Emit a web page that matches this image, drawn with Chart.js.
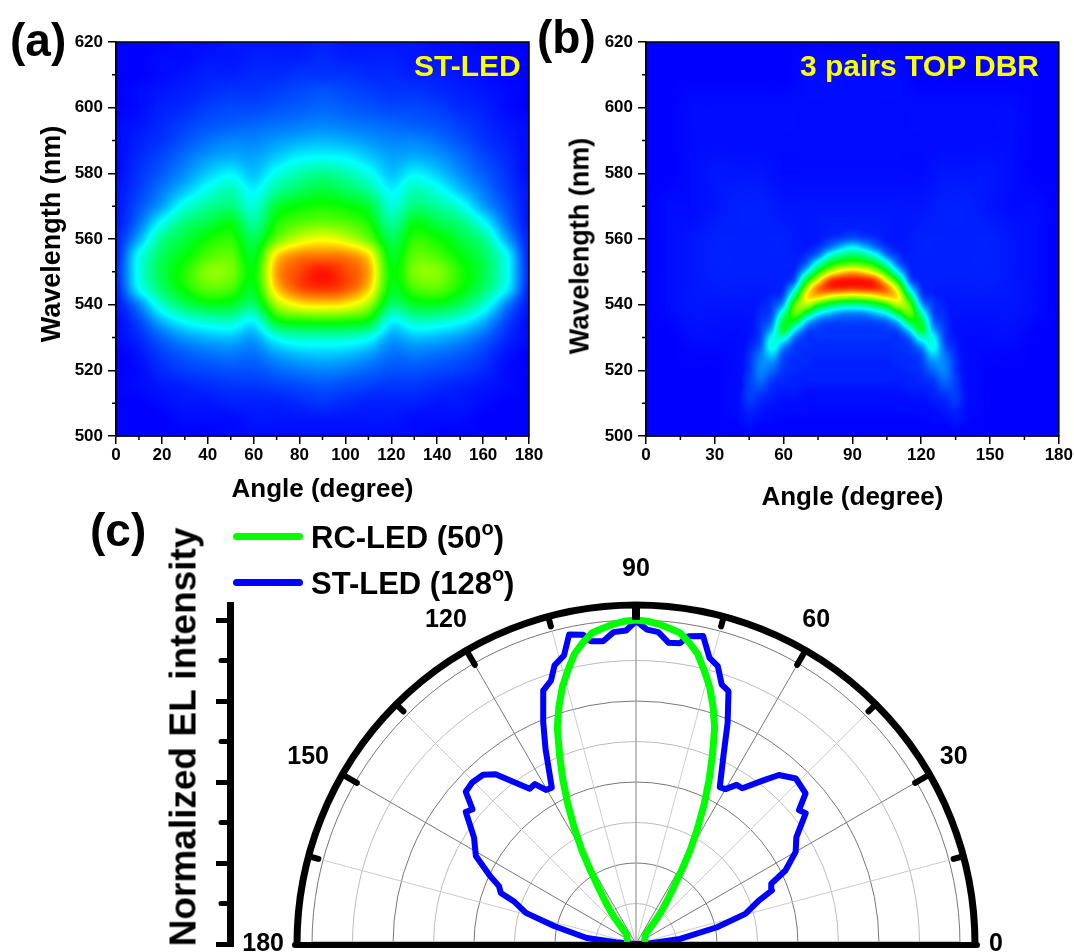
<!DOCTYPE html>
<html>
<head>
<meta charset="utf-8">
<title>EL spectra</title>
<script src="https://cdn.jsdelivr.net/npm/chart.js@4/dist/chart.umd.js"></script>
<style>
  html, body { margin: 0; padding: 0; width: 1074px; height: 952px; overflow: hidden; background: #fff; }
  body { position: relative; font-family: "Liberation Sans", Arial, sans-serif; font-weight: bold; color: #000; }
  canvas { position: absolute; }
  .txt { position: absolute; white-space: nowrap; line-height: 1; }
  .panel { font-size: 46px; }
  .tag { font-size: 30px; color: #ff0; }
  .leg { font-size: 31px; }
  .leg sup { font-size: 20px; line-height: 0; vertical-align: 13px; }
  .swatch { position: absolute; width: 70px; height: 7px; border-radius: 4px; }
  .ytitle { font-size: 27px; transform: translate(-50%, -50%) rotate(-90deg); }
  #ylab { font-size: 37px; left: 183px; top: 737px; transform: translate(-50%, -50%) rotate(-90deg); }
</style>
</head>
<body>
<canvas id="chartA" width="560" height="510" style="left:0;top:0"></canvas>
<canvas id="chartB" width="540" height="510" style="left:534px;top:0"></canvas>
<canvas id="chartC" width="1074" height="480" style="left:0;top:510px"></canvas>

<div class="txt panel" style="left:10px;top:17px">(a)</div>
<div class="txt panel" style="left:537px;top:14px">(b)</div>
<div class="txt panel" style="left:90px;top:507px">(c)</div>
<div class="txt tag" style="left:414px;top:51px">ST-LED</div>
<div class="txt tag" style="left:800px;top:51px">3 pairs TOP DBR</div>
<div class="txt ytitle" style="left:51px;top:234px">Wavelength (nm)</div>
<div class="txt ytitle" style="left:580px;top:246px">Wavelength (nm)</div>
<div class="txt" id="ylab">Normalized EL intensity</div>
<div class="swatch" style="left:233px;top:533px;background:#00ff00"></div>
<div class="swatch" style="left:233px;top:579px;background:#0000ff"></div>
<div class="txt leg" style="left:311px;top:522px">RC-LED (50<sup>o</sup>)</div>
<div class="txt leg" style="left:311px;top:568px">ST-LED (128<sup>o</sup>)</div>

<script>
// panel (a), values in percent of full colour scale, rows from 620 nm down
const aAngles = [0,10,20,30,40,50,60,70,80,90,100,110,120,130,140,150,160,170,180];
const aWavelengths = [620,615,610,605,600,595,590,585,580,575,570,565,560,555,550,545,540,535,530,525,520,515,510,505,500];
const aValues = [
  [0,0,0,1,1,2,2,2,2,3,2,2,2,2,1,1,0,0,0],
  [0,0,1,1,2,2,3,3,3,4,3,3,3,2,2,1,1,0,0],
  [0,0,1,2,3,3,4,4,5,5,5,4,4,3,3,2,1,0,0],
  [0,1,2,3,4,5,5,6,7,8,7,6,5,5,4,3,2,1,0],
  [0,1,3,4,6,7,7,8,9,10,9,8,7,7,6,4,3,1,0],
  [1,2,4,6,8,9,10,11,12,13,12,11,10,9,8,6,4,2,1],
  [1,3,5,8,11,13,13,15,17,18,17,15,13,13,11,8,5,3,1],
  [1,4,7,11,15,17,16,20,24,25,24,20,16,17,15,11,7,4,1],
  [1,5,9,14,20,24,19,27,33,36,33,27,19,24,20,14,9,5,1],
  [2,6,12,19,27,32,24,35,41,44,41,35,24,32,27,19,12,6,2],
  [2,8,16,28,35,38,29,45,50,52,50,45,29,38,35,28,16,8,2],
  [2,11,26,38,43,48,35,52,58,60,58,52,35,48,43,38,26,11,2],
  [3,17,36,44,51,54,42,60,70,74,70,60,42,54,51,44,36,17,3],
  [3,26,41,49,57,59,47,78,87,88,87,78,47,59,57,49,41,26,3],
  [4,27,43,53,63,62,50,84,93,98,93,84,50,62,63,53,43,27,4],
  [3,25,40,51,59,57,48,80,92,95,92,80,48,57,59,51,40,25,3],
  [2,13,30,41,47,46,40,66,76,78,76,66,40,46,47,41,30,13,2],
  [1,7,18,26,30,31,25,48,52,53,52,48,25,31,30,26,18,7,1],
  [1,4,10,15,18,19,16,27,31,31,31,27,16,19,18,15,10,4,1],
  [0,2,6,9,11,12,11,16,19,20,19,16,11,12,11,9,6,2,0],
  [0,1,4,6,7,8,8,10,12,13,12,10,8,8,7,6,4,1,0],
  [0,1,2,3,4,5,5,6,7,8,7,6,5,5,4,3,2,1,0],
  [0,0,1,2,2,3,3,3,4,5,4,3,3,3,2,2,1,0,0],
  [0,0,0,1,1,1,2,2,2,2,2,2,2,1,1,1,0,0,0],
  [0,0,0,0,0,1,1,1,1,1,1,1,1,1,0,0,0,0,0]
];
const aXTicks = [0,20,40,60,80,100,120,140,160,180];
const aXMinor = [10,30,50,70,90,110,130,150,170];

// panel (b), the narrow arch
const bAngles = [40,45,50,55,60,65,70,75,80,85,90,95,100,105,110,115,120,125,130,135,140];
const bWavelengths = [565,562.5,560,557.5,555,552.5,550,547.5,545,542.5,540,537.5,535,532.5,530,527.5,525,522.5,520,517.5,515,512.5,510,507.5,505,502.5,500];
const bValues = [
  [0,0,0,0,0,0,0,0,1,2,2,2,1,0,0,0,0,0,0,0,0],
  [0,0,0,0,0,0,0,1,2,3,4,3,2,1,0,0,0,0,0,0,0],
  [0,0,0,0,0,0,1,2,5,7,9,7,5,2,1,0,0,0,0,0,0],
  [0,0,0,0,0,1,2,5,11,19,24,19,11,5,2,1,0,0,0,0,0],
  [0,0,0,0,0,2,5,12,28,37,41,37,28,12,5,2,0,0,0,0,0],
  [0,0,0,0,1,3,10,30,47,55,58,55,47,30,10,3,1,0,0,0,0],
  [0,0,0,0,2,5,24,50,68,78,82,78,68,50,24,5,2,0,0,0,0],
  [0,0,0,1,3,10,46,72,92,97,98,97,92,72,46,10,3,1,0,0,0],
  [0,0,1,2,5,24,66,88,95,95,94,95,95,88,66,24,5,2,1,0,0],
  [0,0,2,4,9,42,76,80,74,70,68,70,74,80,76,42,9,4,2,0,0],
  [0,0,3,6,18,58,68,54,44,38,36,38,44,54,68,58,18,6,3,0,0],
  [0,1,4,8,32,60,46,28,20,15,14,15,20,28,46,60,32,8,4,1,0],
  [0,1,5,12,44,46,22,11,8,7,7,7,8,11,22,46,44,12,5,1,0],
  [0,1,6,18,46,25,9,6,5,5,5,5,5,6,9,25,46,18,6,1,0],
  [0,2,7,26,30,11,5,5,5,5,5,5,5,5,5,11,30,26,7,2,0],
  [0,3,9,28,15,6,5,4,4,4,4,4,4,4,5,6,15,28,9,3,0],
  [0,4,12,21,8,5,4,4,4,4,4,4,4,4,4,5,8,21,12,4,0],
  [0,5,13,14,6,4,4,3,3,3,3,3,3,3,4,4,6,14,13,5,0],
  [0,5,13,10,5,4,3,3,3,3,3,3,3,3,3,4,5,10,13,5,0],
  [0,6,11,6,4,3,3,3,3,3,3,3,3,3,3,3,4,6,11,6,0],
  [0,6,8,4,3,3,2,2,2,2,2,2,2,2,2,3,3,4,8,6,0],
  [1,6,5,3,2,2,1,1,1,1,1,1,1,1,1,2,2,3,5,6,1],
  [1,5,3,2,1,1,1,1,1,1,1,1,1,1,1,1,1,2,3,5,1],
  [1,3,2,1,1,1,1,0,0,0,0,0,0,0,1,1,1,1,2,3,1],
  [1,2,1,1,0,0,0,0,0,0,0,0,0,0,0,0,0,1,1,2,1],
  [0,1,0,0,0,0,0,0,0,0,0,0,0,0,0,0,0,0,0,1,0],
  [0,0,0,0,0,0,0,0,0,0,0,0,0,0,0,0,0,0,0,0,0]
];
// faint background glow of panel (b)
const bGlowAngles = [0,10,20,30,40,50,60,70,80,90,100,110,120,130,140,150,160,170,180];
const bGlowWavelengths = [620,610,600,590,580,570,560,550,540,530,520,510,500];
const bGlowValues = [
  [0,0,0,0,0,0,0,0,0,0,0,0,0,0,0,0,0,0,0],
  [0,0,0,0,0,0,0,1,1,1,1,1,0,0,0,0,0,0,0],
  [0,0,1,1,1,1,1,1,1,1,1,1,1,1,1,1,1,0,0],
  [0,0,1,1,1,1,1,1,1,1,1,1,1,1,1,1,1,0,0],
  [0,0,1,2,2,2,1,1,1,1,1,1,1,2,2,2,1,0,0],
  [0,1,1,2,3,3,2,2,2,2,2,2,2,3,3,2,1,1,0],
  [0,1,2,3,3,3,3,2,3,3,3,2,3,3,3,3,2,1,0],
  [0,1,2,3,3,3,3,3,3,3,3,3,3,3,3,3,2,1,0],
  [0,1,2,2,2,2,3,3,3,3,3,3,3,2,2,2,2,1,0],
  [0,0,1,1,1,2,2,3,3,3,3,3,2,2,1,1,1,0,0],
  [0,0,0,0,1,2,2,2,2,2,2,2,2,2,1,0,0,0,0],
  [0,0,0,0,1,1,1,1,1,1,1,1,1,1,1,0,0,0,0],
  [0,0,0,0,0,0,0,0,0,0,0,0,0,0,0,0,0,0,0]
];
const bXTicks = [0,30,60,90,120,150,180];
const bXMinor = [15,45,75,105,135,165];
const yTicks = [500,520,540,560,580,600,620];
const yMinor = [510,530,550,570,590,610];

// panel (c), polar curves: angle in degrees, normalized intensity
const rcAngles = [25,45,48,50,52,54,56,58,60,62,64,66,68,70,72,74,76,78,80,82,84,86,88,90,92,94,96,98,100,102,104,106,108,110,112,114,116,118,120,122,124,126,128,130,132,135,155];
const rcValues = [0.03,0.04,0.06,0.09,0.125,0.16,0.2,0.26,0.335,0.405,0.48,0.555,0.63,0.71,0.77,0.825,0.87,0.915,0.945,0.97,0.98,0.99,0.997,1,0.997,0.99,0.98,0.97,0.945,0.915,0.87,0.825,0.77,0.71,0.63,0.555,0.48,0.405,0.335,0.26,0.2,0.16,0.125,0.09,0.06,0.04,0.03];
const stAngles = [0,2,6.5,11.7,15.4,19.5,21.5,24,26.2,30,33.7,37.6,39.4,41.6,46,49.8,52,55.7,57.7,60,61.9,65,67.5,69.9,71.7,73.6,75.6,77.7,80.3,81.7,83.8,85.9,88,90,91.8,94.1,96.2,98.5,99.7,102.2,104,106.3,107.9,110.1,112.7,114.9,118.3,120.3,122.3,124.4,129.6,132.1,135.4,138.2,140.5,142.2,146.7,151.2,155,157.1,159.3,160.7,164.2,167.7,173,175.3,180];
const stValues = [0,0.04,0.137,0.255,0.35,0.402,0.451,0.457,0.514,0.569,0.595,0.661,0.651,0.7,0.71,0.683,0.642,0.582,0.581,0.552,0.549,0.638,0.739,0.831,0.843,0.894,0.912,0.973,0.964,0.938,0.935,0.965,0.971,0.997,0.968,0.965,0.94,0.945,0.968,0.977,0.918,0.896,0.854,0.833,0.742,0.663,0.548,0.551,0.584,0.581,0.68,0.704,0.71,0.705,0.654,0.665,0.598,0.564,0.497,0.459,0.446,0.4,0.353,0.257,0.153,0.063,0];
const polarMajor = [30,60,120,150];
const polarMinor = [15,45,75,105,135,165];
const polarLabels = ['0','30','60','90','120','150','180'];
const ringValues = [0.125,0.25,0.375,0.5,0.625,0.75,0.875,1];
const yMinorC = [0.125,0.375,0.625,0.875];

const fontFamily = '"Liberation Sans", Arial, sans-serif';
// where each angle label sits, as [angle, radius] in the polar frame
const labelSpots = [[0,1.111],[30.5,1.138],[60.9,1.144],[90,1.157],[120.4,1.159],[150.3,1.165],[180,1.151]];

function toColor(v) {
  // blue - cyan - green - yellow - red
  const s = Math.min(1, Math.max(0, v)) * 4;
  if (s < 1) return [0, 255 * s, 255];
  if (s < 2) return [0, 255, 255 * (2 - s)];
  if (s < 3) return [255 * (s - 2), 255, 0];
  return [255, 255 * (4 - s), 0];
}

function cubic(a, b, c, d, t) {
  return b + 0.5 * t * (c - a + t * (2 * a - 5 * b + 4 * c - d + t * (3 * (b - c) + d - a)));
}

// smooth reading of a value table at an angle and a wavelength
function sample(layer, angle, wl) {
  const { angles, wavelengths, values } = layer;
  const fx = (angle - angles[0]) / (angles[1] - angles[0]);
  const fy = (wl - wavelengths[0]) / (wavelengths[1] - wavelengths[0]);
  if (fx < 0 || fy < 0 || fx > angles.length - 1 || fy > wavelengths.length - 1) return 0;
  const ix = Math.min(Math.floor(fx), angles.length - 2);
  const iy = Math.min(Math.floor(fy), wavelengths.length - 2);
  const cx = (i) => Math.max(0, Math.min(angles.length - 1, i));
  const cy = (i) => Math.max(0, Math.min(wavelengths.length - 1, i));
  const col = [];
  for (let j = -1; j <= 2; j++) {
    const row = values[cy(iy + j)];
    col.push(cubic(row[cx(ix - 1)], row[cx(ix)], row[cx(ix + 1)], row[cx(ix + 2)], fx - ix));
  }
  return cubic(col[0], col[1], col[2], col[3], fy - iy) / 100;
}

const heatPlugin = {
  id: 'heat',
  beforeDatasetsDraw(chart, args, opts) {
    const { left, top, right, bottom } = chart.chartArea;
    const w = Math.round(right - left), h = Math.round(bottom - top);
    const off = document.createElement('canvas');
    off.width = w;
    off.height = h;
    const octx = off.getContext('2d');
    const img = octx.createImageData(w, h);
    for (let py = 0; py < h; py++) {
      const wl = chart.scales.y.getValueForPixel(top + py + 0.5);
      for (let px = 0; px < w; px++) {
        const angle = chart.scales.x.getValueForPixel(left + px + 0.5);
        let v = 0;
        opts.layers.forEach((l) => { v = Math.max(v, sample(l, angle, wl)); });
        const c = toColor(v);
        const k = (py * w + px) * 4;
        img.data[k] = c[0];
        img.data[k + 1] = c[1];
        img.data[k + 2] = c[2];
        img.data[k + 3] = 255;
      }
    }
    octx.putImageData(img, 0, 0);
    chart.ctx.drawImage(off, left, top);
  },
  afterDraw(chart, args, opts) {
    const ctx = chart.ctx;
    const { left, top, right, bottom } = chart.chartArea;
    ctx.save();
    ctx.strokeStyle = '#000';
    ctx.lineWidth = 1.5;
    ctx.strokeRect(left, top, right - left, bottom - top);
    ctx.beginPath();
    opts.xMinor.forEach((a) => {
      const x = chart.scales.x.getPixelForValue(a);
      ctx.moveTo(x, bottom);
      ctx.lineTo(x, bottom + 4);
    });
    opts.yMinor.forEach((a) => {
      const y = chart.scales.y.getPixelForValue(a);
      ctx.moveTo(left, y);
      ctx.lineTo(left - 4, y);
    });
    ctx.stroke();
    ctx.restore();
  }
};

function heatChart(id, xTicks, xMinor, layers, pad, yWidth, xTitleBottom) {
  const cells = [];
  layers.forEach((l) => l.values.forEach((row, j) => row.forEach((v, i) => {
    cells.push({ x: l.angles[i], y: l.wavelengths[j], v: v });
  })));
  const tickFont = { family: fontFamily, weight: 'bold', size: 17 };
  const titleFont = { family: fontFamily, weight: 'bold', size: 26 };
  return new Chart(document.getElementById(id), {
    type: 'scatter',
    data: { datasets: [{ data: cells, pointRadius: 0 }] },
    plugins: [heatPlugin],
    options: {
      responsive: false,
      animation: false,
      layout: { padding: pad },
      plugins: {
        legend: { display: false },
        tooltip: { enabled: false },
        heat: { layers: layers, xMinor: xMinor, yMinor: yMinor }
      },
      scales: {
        x: {
          type: 'linear', min: 0, max: 180,
          afterFit: (s) => { s.height = 74; },
          afterBuildTicks: (s) => { s.ticks = xTicks.map((v) => ({ value: v })); },
          border: { color: '#000', width: 1.5 },
          grid: { drawOnChartArea: false, color: '#000', tickLength: 8, lineWidth: 1.5 },
          ticks: { color: '#000', font: tickFont, padding: 1, maxRotation: 0, autoSkip: false },
          title: { display: true, text: 'Angle (degree)', color: '#000', font: titleFont, padding: { top: 0, bottom: xTitleBottom } }
        },
        y: {
          type: 'linear', min: 500, max: 620,
          afterFit: (s) => { s.width = yWidth; },
          afterBuildTicks: (s) => { s.ticks = yTicks.map((v) => ({ value: v })); },
          border: { color: '#000', width: 1.5 },
          grid: { drawOnChartArea: false, color: '#000', tickLength: 8, lineWidth: 1.5 },
          ticks: { color: '#000', font: tickFont, padding: 5, autoSkip: false }
        }
      }
    }
  });
}

heatChart('chartA', aXTicks, aXMinor,
  [{ angles: aAngles, wavelengths: aWavelengths, values: aValues }],
  { top: 42, right: 31, bottom: 0, left: 0 }, 116, 5);

heatChart('chartB', bXTicks, bXMinor,
  [{ angles: bGlowAngles, wavelengths: bGlowWavelengths, values: bGlowValues },
   { angles: bAngles, wavelengths: bWavelengths, values: bValues }],
  { top: 42, right: 15, bottom: 0, left: 0 }, 112, -3);

function toXY(angles, values) {
  return angles.map((a, i) => ({
    x: values[i] * Math.cos(a * Math.PI / 180),
    y: values[i] * Math.sin(a * Math.PI / 180)
  }));
}

const polarPlugin = {
  id: 'polar',
  beforeDatasetsDraw(chart) {
    const ctx = chart.ctx, xs = chart.scales.x, ys = chart.scales.y;
    const cx = xs.getPixelForValue(0), cy = ys.getPixelForValue(0);
    const unit = xs.getPixelForValue(1) - cx;
    ctx.save();
    ringValues.forEach((r, i) => {
      ctx.beginPath();
      ctx.strokeStyle = i % 2 ? '#777' : '#bbb';
      ctx.lineWidth = 1;
      ctx.arc(cx, cy, r * unit, Math.PI, 0);
      ctx.stroke();
    });
    const spoke = (a, color, width) => {
      const t = a * Math.PI / 180;
      ctx.beginPath();
      ctx.strokeStyle = color;
      ctx.lineWidth = width;
      ctx.moveTo(cx, cy);
      ctx.lineTo(cx + unit * Math.cos(t), cy - unit * Math.sin(t));
      ctx.stroke();
    };
    polarMinor.forEach((a) => spoke(a, '#ccc', 1));
    polarMajor.forEach((a) => spoke(a, '#777', 1));
    spoke(90, '#aaa', 1.5);
    ctx.beginPath();
    ctx.strokeStyle = '#aaa';
    ctx.lineWidth = 1.5;
    ctx.moveTo(cx - unit, cy - 2);
    ctx.lineTo(cx + unit, cy - 2);
    ctx.stroke();
    ctx.restore();
  },
  afterDatasetsDraw(chart) {
    const ctx = chart.ctx, xs = chart.scales.x, ys = chart.scales.y;
    const cx = xs.getPixelForValue(0), cy = ys.getPixelForValue(0);
    const unit = xs.getPixelForValue(1) - cx;
    const outer = ys.max;
    const tick = (a, from, width, cap) => {
      const t = a * Math.PI / 180;
      ctx.beginPath();
      ctx.lineCap = cap;
      ctx.lineWidth = width;
      ctx.moveTo(cx + from * unit * Math.cos(t), cy - from * unit * Math.sin(t));
      ctx.lineTo(cx + outer * unit * Math.cos(t), cy - outer * unit * Math.sin(t));
      ctx.stroke();
    };
    ctx.save();
    ctx.strokeStyle = '#000';
    ctx.lineCap = 'butt';
    ctx.lineWidth = 7;
    ctx.beginPath();
    ctx.arc(cx, cy, outer * unit, Math.PI, 0);
    ctx.stroke();
    polarMinor.forEach((a) => tick(a, 1.015, 6, 'round'));
    polarMajor.forEach((a) => tick(a, 0.995, 6, 'round'));
    tick(90, 1.0, 8, 'butt');
    ctx.lineCap = 'round';
    ctx.lineWidth = 6;
    ctx.beginPath();
    ctx.moveTo(cx - outer * unit - 2, cy + 1);
    ctx.lineTo(cx + outer * unit + 2, cy + 1);
    ctx.stroke();
    // short minor ticks of the left axis
    const left = chart.chartArea.left;
    ctx.lineCap = 'round';
    ctx.lineWidth = 5;
    ctx.beginPath();
    yMinorC.forEach((v) => {
      const y = ys.getPixelForValue(v);
      ctx.moveTo(left, y);
      ctx.lineTo(left - 9, y);
    });
    ctx.stroke();
    // angle labels
    ctx.fillStyle = '#000';
    ctx.font = 'bold 25px ' + fontFamily;
    ctx.textAlign = 'center';
    ctx.textBaseline = 'middle';
    polarLabels.forEach((label, i) => {
      const t = labelSpots[i][0] * Math.PI / 180;
      const r = labelSpots[i][1];
      ctx.fillText(label, cx + r * unit * Math.cos(t), cy - r * unit * Math.sin(t));
    });
    ctx.restore();
  }
};

new Chart(document.getElementById('chartC'), {
  type: 'scatter',
  data: {
    datasets: [
      { label: 'RC-LED (50°)', data: toXY(rcAngles, rcValues), showLine: true, pointRadius: 0, borderColor: '#00ff00', borderWidth: 7, borderCapStyle: 'round', borderJoinStyle: 'round', tension: 0, clip: false },
      { label: 'ST-LED (128°)', data: toXY(stAngles, stValues), showLine: true, pointRadius: 0, borderColor: '#0000ff', borderWidth: 6, borderJoinStyle: 'round', tension: 0, clip: false }
    ]
  },
  plugins: [polarPlugin],
  options: {
    responsive: false,
    animation: false,
    layout: { padding: { top: 95, right: 74, bottom: 46, left: 0 } },
    plugins: { legend: { display: false }, tooltip: { enabled: false } },
    scales: {
      x: { type: 'linear', display: false, min: -1.2531, max: 1.1235 },
      y: {
        type: 'linear', min: 0, max: 1.0463,
        afterFit: (s) => { s.width = 230; },
        border: { color: '#000', width: 7 },
        grid: { drawOnChartArea: false, color: '#000', tickLength: 14, lineWidth: 5 },
        ticks: { display: false, stepSize: 0.25, includeBounds: false }
      }
    }
  }
});
</script>
</body>
</html>
